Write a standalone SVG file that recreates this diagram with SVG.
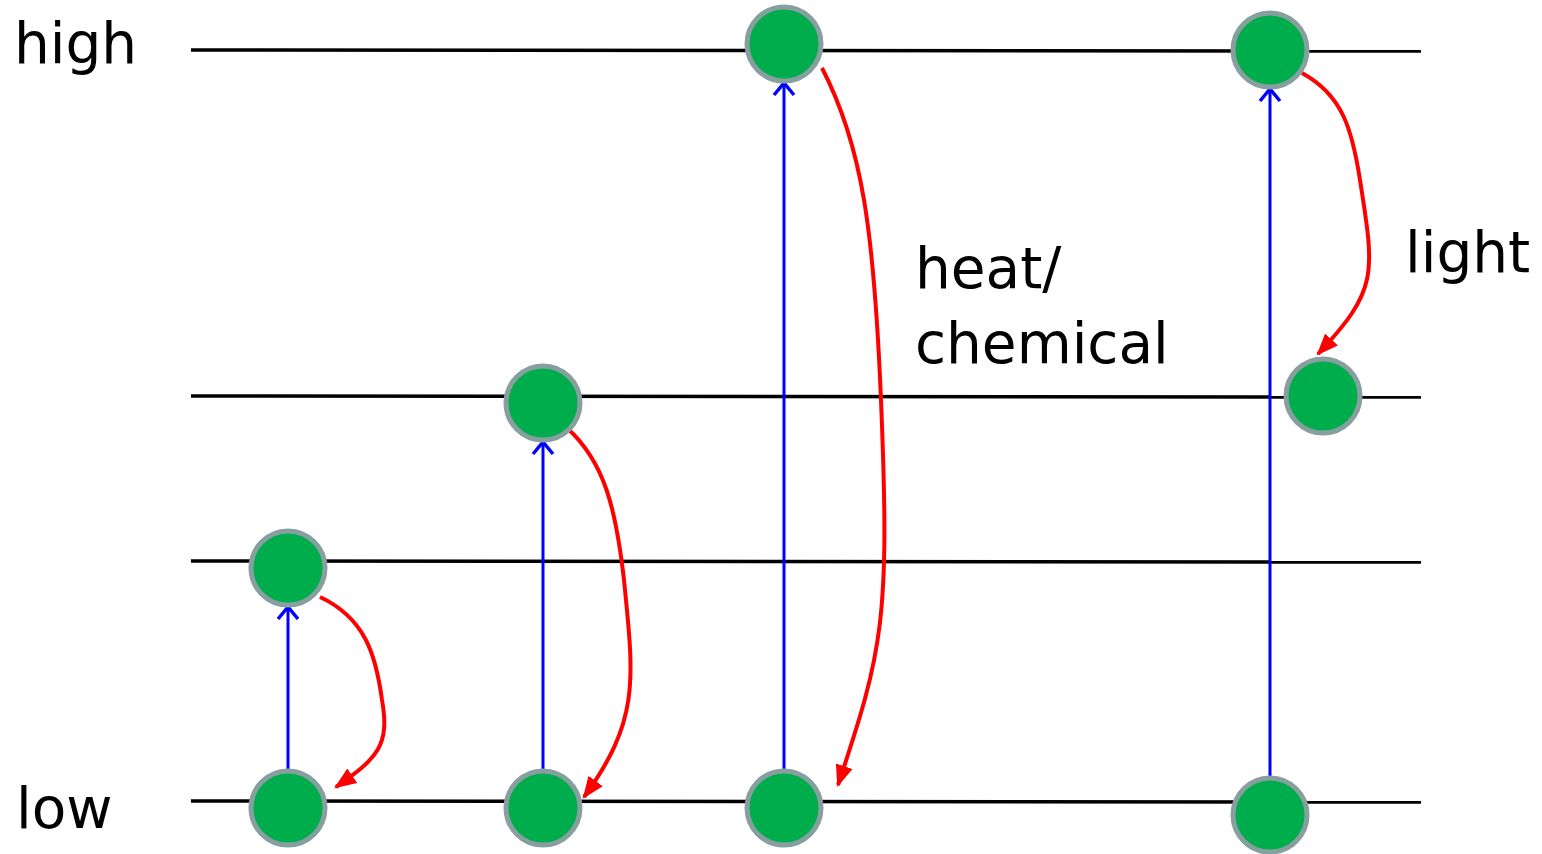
<svg xmlns="http://www.w3.org/2000/svg" width="1542" height="854" viewBox="0 0 1542 854">
<style>
.lvl{stroke:#000;stroke-width:3.5;fill:none}
.up{stroke:#0000ff;stroke-width:3;fill:none;marker-end:url(#open)}
.down{stroke:#ff0000;stroke-width:4;fill:none;marker-end:url(#tri)}
.dot{fill:#00ad4c;stroke:#889fa0;stroke-width:5}
.lbl{font-family:"DejaVu Sans",sans-serif;font-size:56.5px;fill:#000}
</style>
<defs>
<marker id="open" viewBox="0 0 20 24" refX="18" refY="12" markerWidth="20" markerHeight="24" markerUnits="userSpaceOnUse" orient="auto">
<path d="M6,2 L18,12 L6,22" fill="none" stroke="#0000ff" stroke-width="3.5"/>
</marker>
<marker id="tri" viewBox="0 0 20 20" refX="18" refY="10" markerWidth="22" markerHeight="22" markerUnits="userSpaceOnUse" orient="auto">
<path d="M0,2 L20,10 L0,18 Z" fill="#ff0000"/>
</marker>
</defs>
<g id="levels">
<line class="lvl" x1="191" y1="50" x2="1421" y2="51"/>
<line class="lvl" x1="191" y1="396" x2="1421" y2="397"/>
<line class="lvl" x1="191" y1="561" x2="1421" y2="562"/>
<line class="lvl" x1="191" y1="801" x2="1421" y2="802"/>
</g>
<g id="connectors">
<path class="up" d="M288,772 L288,607"/>
<path class="up" d="M543,772 L543,442"/>
<path class="up" d="M784,772 L784,83"/>
<path class="up" d="M1270,778 L1270,89"/>
<path class="down" d="M320,597 C365,618 376,655 382,700 C390,745 378,758 336,787"/>
<path class="down" d="M567,428 C605,462 616,510 624,580 C634,680 640,720 584,797"/>
<path class="down" d="M822,68 C862,145 874,230 881,400 C890,620 883,650 838,785"/>
<path class="down" d="M1302,73 C1342,95 1352,128 1360,180 C1375,275 1378,290 1318,354"/>
</g>
<g id="n1a"><circle class="dot" cx="288" cy="568" r="37"/></g>
<g id="n1b"><circle class="dot" cx="288" cy="808" r="37"/></g>
<g id="n2a"><circle class="dot" cx="543" cy="403" r="37"/></g>
<g id="n2b"><circle class="dot" cx="543" cy="808" r="37"/></g>
<g id="n3a"><circle class="dot" cx="784" cy="44" r="37"/></g>
<g id="n3b"><circle class="dot" cx="784" cy="808" r="37"/></g>
<g id="n4a"><circle class="dot" cx="1270" cy="50" r="37"/></g>
<g id="n4b"><circle class="dot" cx="1323" cy="396" r="37"/></g>
<g id="n4c"><circle class="dot" cx="1270" cy="815" r="37"/></g>
<g id="labels">
<text class="lbl" x="14" y="63">high</text>
<text class="lbl" x="16" y="828">low</text>
<text class="lbl" x="915" y="288">heat/</text>
<text class="lbl" x="915" y="363">chemical</text>
<text class="lbl" x="1405" y="272">light</text>
</g>
</svg>
